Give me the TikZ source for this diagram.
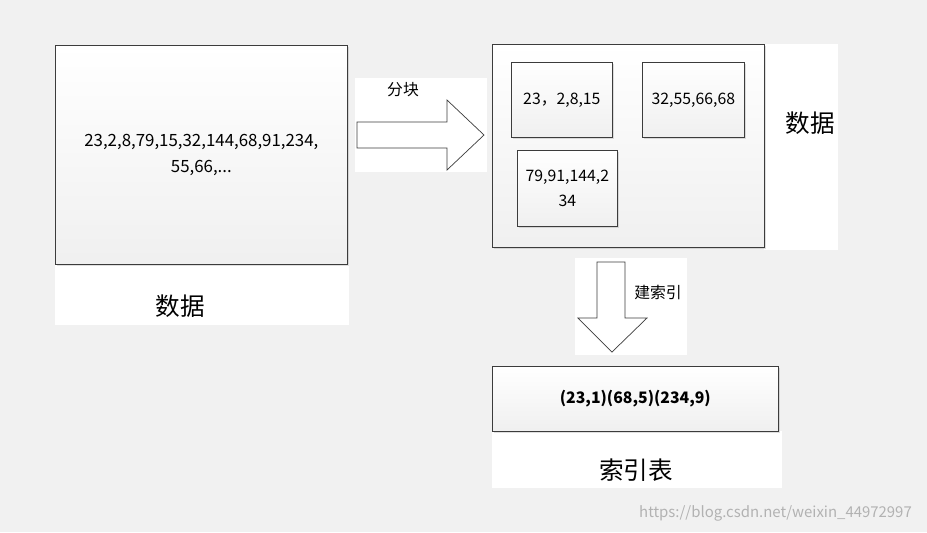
\documentclass[tikz,border=0pt]{standalone}
\usepackage{fontspec}
\setmainfont{Noto Sans CJK SC}
\usetikzlibrary{shadows}
\definecolor{bgcol}{RGB}{241,241,241}
\definecolor{edgecol}{RGB}{60,60,60}
\tikzset{
  databox/.style={draw=edgecol,top color=white,bottom color=gray!12,drop shadow={opacity=0.25,shadow xshift=1pt,shadow yshift=-1pt}},
  pad/.style={fill=white,draw=none},
  bigarrow/.style={draw=edgecol,fill=white,line join=miter}
}
\begin{document}
\begin{tikzpicture}[x=0.02cm,y=-0.02cm]
\useasboundingbox[fill=bgcol] (0,0) rectangle (927,532);
% white backing areas
\fill[white] (55,264) rectangle (349,325);
\fill[white] (355,78) rectangle (487,172);
\fill[white] (764,44) rectangle (838,250);
\fill[white] (575,258) rectangle (687,355);
\fill[white] (492,431) rectangle (782,488);
% left data block
\node[databox,minimum width=292*0.02cm,minimum height=219*0.02cm,anchor=north west,align=center,font=\fontsize{9.6}{15}\selectfont] (raw) at (55,45) {23,2,8,79,15,32,144,68,91,234,\\55,66,...};
\node[font=\fontsize{14}{16}\selectfont] (rawlbl) at (180,306) {数据};
% split arrow
\draw[bigarrow] (357,122) -- (447,122) -- (447,100) -- (484,135) -- (447,170) -- (447,148) -- (357,148) -- cycle;
\node[font=\fontsize{9}{11}\selectfont] (splitlbl) at (403,90) {分块};
% right block group
\node[databox,minimum width=272*0.02cm,minimum height=203*0.02cm,anchor=north west] (grp) at (492,44) {};
\node[databox,minimum width=101*0.02cm,minimum height=75*0.02cm,anchor=north west,font=\fontsize{9}{11}\selectfont] (b1) at (511,62) {23，2,8,15};
\node[databox,minimum width=102*0.02cm,minimum height=75*0.02cm,anchor=north west,font=\fontsize{9}{11}\selectfont] (b2) at (642,62) {32,55,66,68};
\node[databox,minimum width=100*0.02cm,minimum height=76*0.02cm,anchor=north west,align=center,font=\fontsize{9}{14}\selectfont] (b3) at (517,150) {79,91,144,2\\34};
\node[font=\fontsize{14}{16}\selectfont] (grplbl) at (810,123) {数据};
% index arrow
\draw[bigarrow] (597,262) -- (625,262) -- (625,318) -- (647,318) -- (612,352) -- (578,318) -- (597,318) -- cycle;
\node[font=\fontsize{9}{11}\selectfont] (idxlbl) at (658,292) {建索引};
% index table
\node[databox,minimum width=286*0.02cm,minimum height=65*0.02cm,anchor=north west,font=\fontsize{9}{11}\selectfont\bfseries] (tbl) at (492,366) {(23,1)(68,5)(234,9)};
\node[font=\fontsize{14}{16}\selectfont] (tbllbl) at (636,470) {索引表};
\node[text=gray!60,anchor=east,font=\fontsize{8.5}{11}\selectfont] (mark) at (918,513) {https://blog.csdn.net/weixin\_44972997};
\end{tikzpicture}
\end{document}
